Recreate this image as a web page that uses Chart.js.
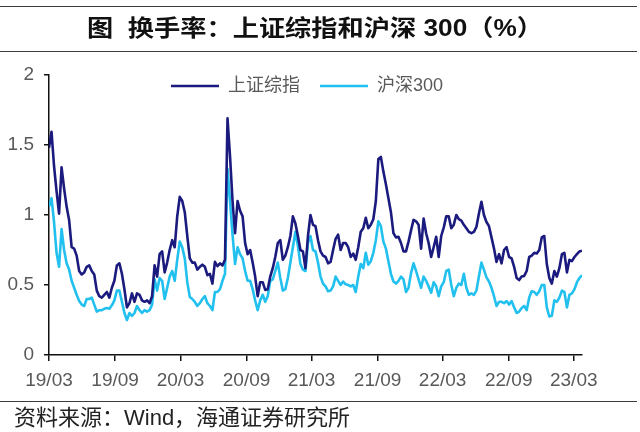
<!DOCTYPE html>
<html>
<head>
<meta charset="utf-8">
<script src="https://cdn.jsdelivr.net/npm/chart.js@4/dist/chart.umd.min.js"></script>
<style>
html,body{margin:0;padding:0;background:#fff;}
#wrap{position:relative;width:640px;height:432px;overflow:hidden;background:#fff;}
#c{position:absolute;left:0;top:0;}
.rule{position:absolute;left:0;width:637px;height:0;border-top:1.5px solid #3c3c3c;}
#title{position:absolute;left:0;top:12px;width:630px;text-align:center;font-family:"Liberation Sans","Noto Sans CJK SC",sans-serif;font-weight:bold;font-size:23px;line-height:32px;color:#111;white-space:nowrap;transform:scaleX(1.14);transform-origin:315px 50%;}
#src{position:absolute;left:14px;top:404px;font-family:"Liberation Sans","Noto Sans CJK SC",sans-serif;font-size:22px;line-height:28px;color:#222;white-space:nowrap;}
</style>
</head>
<body>
<div id="wrap">
  <canvas id="c" width="640" height="432"></canvas>
  <div class="rule" style="top:6px"></div>
  <div id="title">图&nbsp;&nbsp;换手率：上证综指和沪深 300（%）</div>
  <div class="rule" style="top:51px"></div>
  <div class="rule" style="top:401px"></div>
  <div id="src">资料来源：Wind，海通证券研究所</div>
</div>
<script>
// Weekly observations, week index counted from 2019-03-01
const startDate = Date.UTC(2019, 2, 1);
const tickLabels = ['19/03','19/09','20/03','20/09','21/03','21/09','22/03','22/09','23/03'];
const seriesNames = ['上证综指', '沪深300'];

const sseTurnover = [
1.48,1.595,1.35,1.17,1.01,1.34,1.19,1.06,0.965,0.77,
0.76,0.71,0.60,0.575,0.59,0.63,0.64,0.60,0.575,0.46,
0.42,0.41,0.43,0.45,0.41,0.48,0.53,0.64,0.655,0.58,
0.47,0.34,0.37,0.44,0.38,0.44,0.43,0.39,0.38,0.39,
0.37,0.42,0.64,0.56,0.72,0.74,0.59,0.66,0.75,0.82,
0.77,0.99,1.13,1.10,1.02,0.85,0.69,0.66,0.66,0.61,
0.63,0.645,0.63,0.57,0.58,0.51,0.665,0.635,0.655,0.64,
0.68,1.69,1.42,1.10,0.87,1.10,1.03,0.99,0.80,0.72,
0.75,0.66,0.56,0.42,0.52,0.52,0.465,0.47,0.56,0.62,
0.70,0.80,0.82,0.68,0.71,0.77,0.85,0.99,0.94,0.85,
0.75,0.74,0.62,0.85,1.00,0.93,0.92,0.82,0.74,0.71,
0.70,0.655,0.665,0.75,0.83,0.86,0.75,0.80,0.80,0.77,
0.70,0.725,0.68,0.77,0.88,0.905,0.98,0.905,0.93,0.97,
1.10,1.40,1.415,1.31,1.22,1.12,1.02,0.87,0.84,0.845,
0.80,0.74,0.74,0.81,0.89,0.965,0.955,0.93,0.76,0.975,
0.87,0.80,0.70,0.77,0.845,0.70,0.85,0.91,0.99,0.99,
0.905,0.93,1.00,0.97,0.96,0.93,0.905,0.88,0.87,0.88,
0.915,1.01,1.095,1.00,0.95,0.92,0.84,0.76,0.665,0.72,
0.655,0.75,0.77,0.70,0.69,0.63,0.55,0.535,0.56,0.565,
0.60,0.70,0.71,0.73,0.725,0.75,0.84,0.85,0.65,0.55,
0.51,0.60,0.56,0.62,0.72,0.73,0.59,0.68,0.67,0.70,
0.72,0.74,0.745
];

const hs300Turnover = [
1.06,1.12,0.95,0.73,0.63,0.90,0.75,0.655,0.61,0.53,
0.48,0.43,0.385,0.36,0.35,0.40,0.40,0.41,0.36,0.31,
0.32,0.32,0.33,0.335,0.33,0.355,0.39,0.46,0.46,0.38,
0.30,0.25,0.30,0.28,0.30,0.35,0.32,0.30,0.32,0.31,
0.32,0.36,0.54,0.46,0.55,0.53,0.40,0.48,0.56,0.60,
0.53,0.68,0.81,0.77,0.69,0.52,0.415,0.40,0.38,0.35,
0.37,0.40,0.42,0.37,0.35,0.32,0.45,0.45,0.47,0.53,
0.58,1.33,1.10,0.86,0.65,0.77,0.72,0.69,0.60,0.53,
0.53,0.47,0.39,0.32,0.39,0.43,0.38,0.42,0.53,0.54,
0.60,0.66,0.55,0.46,0.47,0.55,0.66,0.77,0.88,0.78,
0.65,0.61,0.60,0.80,0.85,0.75,0.74,0.66,0.56,0.51,
0.49,0.455,0.46,0.49,0.56,0.53,0.50,0.525,0.505,0.50,
0.49,0.50,0.45,0.56,0.65,0.62,0.73,0.645,0.67,0.73,
0.82,0.955,0.92,0.81,0.76,0.67,0.58,0.525,0.51,0.53,
0.56,0.54,0.45,0.48,0.585,0.655,0.60,0.54,0.48,0.56,
0.53,0.49,0.445,0.52,0.49,0.42,0.49,0.52,0.60,0.61,
0.50,0.42,0.48,0.51,0.50,0.58,0.48,0.43,0.44,0.43,
0.46,0.56,0.66,0.61,0.555,0.525,0.48,0.42,0.35,0.38,
0.38,0.37,0.385,0.36,0.385,0.34,0.30,0.31,0.335,0.35,
0.32,0.41,0.455,0.45,0.43,0.455,0.50,0.50,0.34,0.275,
0.28,0.39,0.38,0.41,0.46,0.45,0.34,0.43,0.44,0.47,
0.52,0.55,0.57
];

const yTickValues = [0, 0.5, 1, 1.5, 2];

// tick positions (in weeks since start) derived from the tick labels
const tickWeeks = tickLabels.map(l => {
  const [yy, mm] = l.split('/').map(Number);
  return (Date.UTC(2000 + yy, mm - 1, 1) - startDate) / (7 * 864e5);
});

const toPoints = arr => arr.map((v, i) => ({x: i, y: v}));

Chart.defaults.font.family = '"Liberation Sans","Noto Sans CJK SC",sans-serif';
Chart.defaults.color = '#595959';

const legendShift = {
  id: 'legendShift',
  afterLayout(chart) {
    const lg = chart.legend;
    if (!lg || !lg.legendHitBoxes || !lg.legendHitBoxes.length) return;
    const itemH = lg.legendHitBoxes[0].height;
    const pad = lg.options.labels.padding;
    const h = lg.bottom - lg.top;
    lg.top = 86 - pad - itemH / 2;
    lg.bottom = lg.top + h;
    const dx = 16;
    lg.left += dx; lg.right += dx;
  }
};

const ctx = document.getElementById('c').getContext('2d');
const chart = new Chart(ctx, {
  type: 'line',
  data: {
    datasets: [
      {label: seriesNames[0], data: toPoints(sseTurnover), borderColor: '#1B1A7E', backgroundColor: '#1B1A7E',
       borderWidth: 2.6, pointRadius: 0, tension: 0, borderJoinStyle: 'round'},
      {label: seriesNames[1], data: toPoints(hs300Turnover), borderColor: '#22C0EE', backgroundColor: '#22C0EE',
       borderWidth: 2.6, pointRadius: 0, tension: 0, borderJoinStyle: 'round'}
    ]
  },
  options: {
    responsive: false,
    animation: false,
    devicePixelRatio: 1,
    layout: {padding: {top: 20, right: 58, bottom: 37, left: 0}},
    plugins: {
      legend: {
        position: 'top',
        labels: {usePointStyle: true, pointStyle: 'line', pointStyleWidth: 48, boxHeight: 18,
                 padding: 20, color: '#595959', font: {size: 18}}
      },
      tooltip: {enabled: false}
    },
    scales: {
      x: {
        type: 'linear', min: 0, max: sseTurnover.length - 1,
        afterBuildTicks: s => { s.ticks = tickWeeks.map(v => ({value: v})); },
        afterFit: s => { s.height = 40; },
        ticks: {autoSkip: false, maxRotation: 0, padding: 8, color: '#595959', font: {size: 19},
                callback: (v, i) => tickLabels[i]},
        grid: {display: true, drawOnChartArea: false, drawTicks: true, tickLength: 6, color: '#111', lineWidth: 1.5},
        border: {display: true, color: '#111', width: 1.5}
      },
      y: {
        min: 0, max: 2,
        afterBuildTicks: s => { s.ticks = yTickValues.map(v => ({value: v})); },
        afterFit: s => { s.width = 49; },
        ticks: {padding: 10, color: '#595959', font: {size: 19}, callback: v => String(v)},
        grid: {display: true, drawOnChartArea: false, drawTicks: true, tickLength: 5, color: '#111', lineWidth: 1.5},
        border: {display: true, color: '#111', width: 1.5}
      }
    }
  },
  plugins: [legendShift]
});
// align plot area top with the reference (y = 2 at 75px)
const dTop = 75 - chart.chartArea.top;
chart.options.layout.padding.top += dTop;
chart.update();
</script>
</body>
</html>
